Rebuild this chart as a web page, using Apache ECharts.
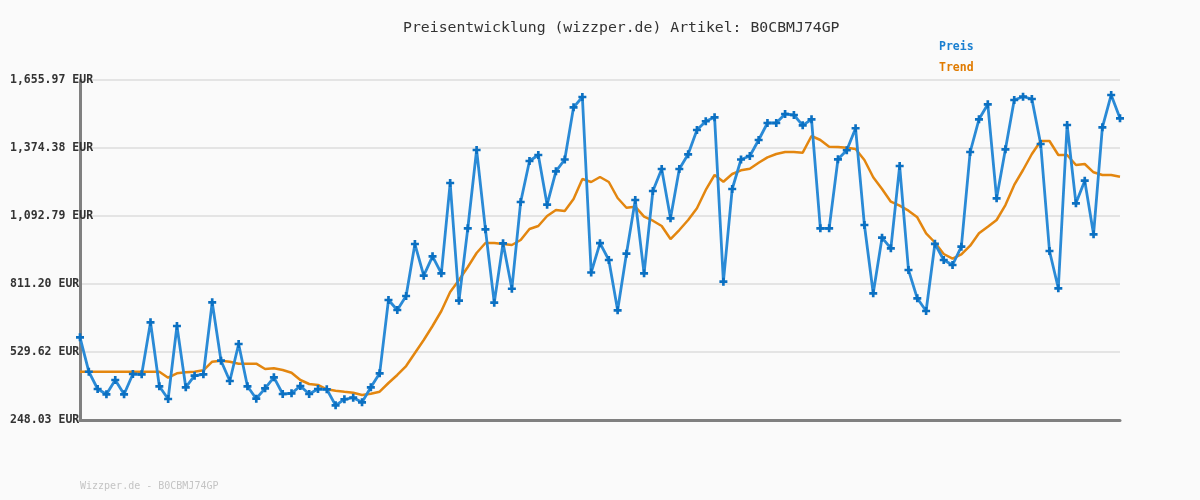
<!DOCTYPE html>
<html>
<head>
<meta charset="utf-8">
<script src="https://cdn.jsdelivr.net/npm/echarts@6/dist/echarts.min.js"></script>
<style>
  html, body { margin: 0; padding: 0; background: #fafafa; }
  #chart { width: 1200px; height: 500px; }
</style>
</head>
<body>
<div id="chart"></div>
<script>
// values (EUR)
var preis = [
  590.5, 448.0, 376.4, 354.4, 413.7, 354.4, 438.5, 437.3, 652.6, 387.6,
  335.0, 637.3, 383.4, 431.5, 437.3, 735.4, 493.6, 409.5, 562.7, 387.6,
  336.2, 379.3, 424.8, 355.7, 358.6, 388.8, 355.7, 376.4, 375.2, 308.9,
  333.8, 340.4, 321.3, 383.4, 441.4, 745.0, 703.5, 761.5, 976.8, 845.6,
  925.9, 855.5, 1229.4, 742.1, 1041.8, 1366.1, 1037.7, 733.8, 979.7, 791.7,
  1150.8, 1320.5, 1345.4, 1139.6, 1277.9, 1326.8, 1542.9, 1585.6, 858.8, 980.2,
  910.6, 702.3, 936.7, 1159.1, 855.5, 1196.3, 1287.4, 1083.3, 1287.4, 1348.3,
  1448.9, 1485.0, 1501.5, 820.7, 1204.6, 1326.8, 1341.3, 1407.5, 1477.9, 1477.9,
  1515.2, 1511.0, 1468.4, 1493.2, 1041.8, 1041.8, 1327.6, 1364.9, 1456.0, 1055.5,
  772.7, 1002.9, 959.0, 1299.8, 869.2, 752.0, 699.4, 977.7, 910.6, 889.9,
  965.7, 1357.8, 1493.2, 1555.3, 1166.1, 1369.0, 1573.2, 1586.8, 1577.3, 1391.0,
  947.9, 793.4, 1469.6, 1145.4, 1239.0, 1017.0, 1460.1, 1593.9, 1497.4
];

var trend = [
  448.0, 448.0, 448.0, 448.0, 448.0, 448.0, 448.0, 448.0, 448.0, 448.0,
  423.2, 441.4, 445.6, 448.0, 453.8, 489.5, 493.6, 489.5, 481.2, 481.2,
  481.2, 459.2, 462.1, 455.1, 443.9, 413.7, 397.1, 393.0, 375.2, 369.4,
  365.2, 361.1, 351.6, 356.9, 365.2, 401.2, 434.4, 471.6, 525.5, 579.3,
  637.3, 699.4, 778.1, 827.8, 881.6, 939.6, 981.0, 981.0, 976.8, 972.7,
  993.4, 1039.0, 1051.4, 1092.8, 1117.6, 1113.5, 1163.2, 1246.0, 1233.6, 1254.3,
  1233.6, 1167.3, 1127.1, 1131.3, 1089.9, 1073.3, 1051.4, 997.5, 1034.8, 1076.2,
  1124.7, 1200.5, 1262.6, 1234.8, 1266.7, 1282.0, 1288.7, 1313.1, 1335.8, 1349.5,
  1357.8, 1357.8, 1354.9, 1424.1, 1407.5, 1379.8, 1378.5, 1375.6, 1370.2, 1324.7,
  1253.1, 1204.6, 1152.0, 1135.5, 1114.8, 1087.4, 1021.2, 983.1, 935.4, 916.0,
  934.2, 969.8, 1021.2, 1048.5, 1076.2, 1138.3, 1221.2, 1283.3, 1349.5, 1403.4,
  1403.4, 1345.4, 1345.4, 1304.0, 1308.1, 1273.8, 1262.6, 1262.6, 1255.5
];

var yTickLabels = ['248.03', '529.62', '811.20', '1,092.79', '1,374.38', '1,655.97'];
var yMin = 248.03;
var yMax = 1655.97;

var chart = echarts.init(document.getElementById('chart'));

var xData = preis.map(function(v, i) { return i; });
var monoFont = '"DejaVu Sans Mono", "Liberation Mono", monospace';

chart.setOption({
  animation: false,
  backgroundColor: '#fafafa',
  title: {
    text: 'Preisentwicklung (wizzper.de) Artikel: B0CBMJ74GP',
    left: 398,
    top: 16,
    textStyle: { fontFamily: monoFont, fontSize: 14.8, fontWeight: 'normal', color: '#333' }
  },
  legend: {
    orient: 'vertical',
    left: 929,
    top: 36,
    itemWidth: 0,
    itemHeight: 0,
    itemGap: 9,
    selectedMode: false,
    textStyle: { fontFamily: monoFont, fontSize: 11.5, fontWeight: 'bold' },
    data: [
      { name: 'Preis', icon: 'none', textStyle: { color: '#1a7fd0' } },
      { name: 'Trend', icon: 'none', textStyle: { color: '#e07b00' } }
    ]
  },
  graphic: [{
    type: 'text',
    left: 80,
    top: 481,
    style: { text: 'Wizzper.de - B0CBMJ74GP', fill: '#c4c4c4', font: '10px ' + monoFont }
  }],
  grid: { left: 80, right: 80, top: 80, bottom: 80, containLabel: false },
  xAxis: {
    type: 'category',
    data: xData,
    boundaryGap: false,
    axisLine: { lineStyle: { color: '#808080', width: 3 } },
    axisTick: { show: false },
    axisLabel: { show: false },
    splitLine: { show: false }
  },
  yAxis: {
    type: 'value',
    min: yMin,
    max: yMax,
    interval: (yMax - yMin) / 5,
    axisLine: { show: true, lineStyle: { color: '#808080', width: 3 } },
    axisTick: { show: false },
    splitLine: { lineStyle: { color: '#e4e4e4', width: 2 } },
    axisLabel: {
      margin: 70,
      align: 'left',
      fontFamily: monoFont,
      fontSize: 11.5,
      fontWeight: 'bold',
      color: '#333',
      formatter: function(value, index) { return yTickLabels[index] + ' EUR'; }
    }
  },
  series: [
    {
      name: 'Preis',
      type: 'line',
      data: preis,
      showSymbol: true,
      showAllSymbol: true,
      symbol: 'path://M3,0H6V3H9V6H6V9H3V6H0V3H3Z',
      symbolSize: 8,
      itemStyle: { color: '#0b70c2' },
      lineStyle: { color: '#2a8ad6', width: 2.8 },
      z: 3
    },
    {
      name: 'Trend',
      type: 'line',
      data: trend,
      symbol: 'none',
      itemStyle: { color: '#e07b00' },
      lineStyle: { color: '#e3860f', width: 2.5 },
      z: 2
    }
  ]
});
</script>
</body>
</html>
